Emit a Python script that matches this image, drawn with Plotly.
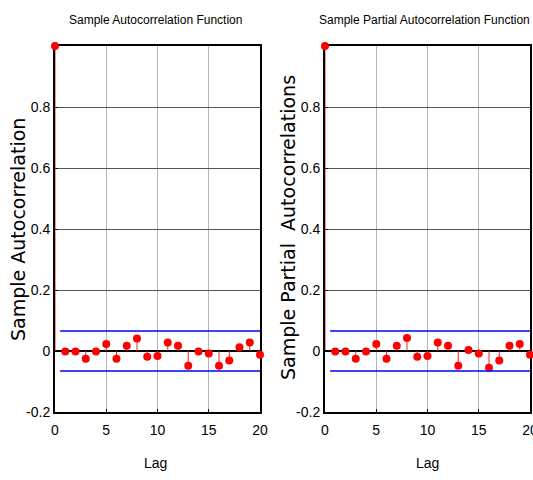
import plotly.graph_objects as go

# Sample ACF / PACF values for lags 0..20
lags = list(range(0, 21))
acf_vals = [1.0, -0.002, -0.002, -0.025, -0.002, 0.023, -0.025, 0.017, 0.041, -0.019, -0.016,
            0.028, 0.017, -0.048, -0.002, -0.008, -0.048, -0.031, 0.012, 0.028, -0.012]
pacf_vals = [1.0, -0.002, -0.002, -0.025, -0.002, 0.023, -0.025, 0.017, 0.043, -0.019, -0.016,
             0.028, 0.017, -0.048, 0.003, -0.008, -0.055, -0.031, 0.017, 0.023, -0.012]
conf_bound = 0.0656
bound_lags = [0.5, 20]

y_ticks = [-0.2, 0, 0.2, 0.4, 0.6, 0.8]
y_ticktext = ["-0.2", "0", "0.2", "0.4", "0.6", "0.8"]
x_ticks = [0, 5, 10, 15, 20]

titles = ["Sample Autocorrelation Function", "Sample Partial Autocorrelation Function"]
ylabels = ["Sample Autocorrelation", "Sample Partial  Autocorrelations"]

NARROW = "Liberation Sans Narrow, Arial Narrow, Liberation Sans, Arial, sans-serif"
WIDE = "DejaVu Sans, Verdana, sans-serif"

fig = go.Figure()

for i, vals in enumerate([acf_vals, pacf_vals]):
    ax = "" if i == 0 else "2"
    xs, ys = [], []
    for lag, v in zip(lags, vals):
        xs += [lag, lag, None]
        ys += [0, v, None]
    # stems
    fig.add_trace(go.Scatter(x=xs, y=ys, mode="lines", line=dict(color="#ff2020", width=1),
                             xaxis="x" + ax, yaxis="y" + ax, hoverinfo="skip",
                             cliponaxis=False, showlegend=False))
    # stem heads
    fig.add_trace(go.Scatter(x=lags, y=vals, mode="markers",
                             marker=dict(color="#ff0000", size=8, line=dict(width=0)),
                             xaxis="x" + ax, yaxis="y" + ax, cliponaxis=False, showlegend=False))
    # confidence bounds
    for b in (conf_bound, -conf_bound):
        fig.add_trace(go.Scatter(x=bound_lags, y=[b, b], mode="lines",
                                 line=dict(color="#0000ff", width=1.5),
                                 xaxis="x" + ax, yaxis="y" + ax, showlegend=False))

x_domains = [[55 / 533, 260 / 533], [325 / 533, 530 / 533]]
y_domain = [1 - 412 / 480, 1 - 46 / 480]

axis_common = dict(showline=True, linecolor="black", linewidth=2, mirror=True,
                   ticks="inside", ticklen=3, tickcolor="black",
                   tickfont=dict(family=NARROW, size=14, color="black"),
                   layer="below traces", automargin=False, ticklabeloverflow="allow")

layout = dict(width=533, height=480, margin=dict(l=0, r=0, t=0, b=0),
              plot_bgcolor="white", paper_bgcolor="white", showlegend=False)

for i in range(2):
    ax = "" if i == 0 else "2"
    layout["xaxis" + ax] = dict(axis_common, domain=x_domains[i], range=[0, 20],
                                tickvals=x_ticks, showgrid=True, gridcolor="#b4b4b4",
                                gridwidth=1, zeroline=False, ticklabelstandoff=4,
                                anchor="y" + ax)
    layout["yaxis" + ax] = dict(axis_common, domain=y_domain, range=[-0.2, 1],
                                tickvals=y_ticks, ticktext=y_ticktext, showgrid=True,
                                gridcolor="#555555", gridwidth=1, zeroline=True,
                                zerolinecolor="black", zerolinewidth=2,
                                anchor="x" + ax)

fig.update_layout(**layout)

title_x = [155 / 533, 424 / 533]
lag_x = [155 / 533, 427 / 533]
ylabel_x = [18 / 533, 288 / 533]
ylabel_y = [1 - 230 / 480, 1 - 228 / 480]
for i in range(2):
    fig.add_annotation(text=titles[i], x=title_x[i], y=1 - 20 / 480, xref="paper", yref="paper",
                       xanchor="center", yanchor="middle", showarrow=False,
                       font=dict(family=NARROW, size=12, color="black"))
    fig.add_annotation(text="Lag", x=lag_x[i], y=1 - 463 / 480, xref="paper", yref="paper",
                       xanchor="center", yanchor="middle", showarrow=False,
                       font=dict(family=NARROW, size=14, color="black"))
    fig.add_annotation(text=ylabels[i], x=ylabel_x[i], y=ylabel_y[i], xref="paper", yref="paper",
                       xanchor="center", yanchor="middle", showarrow=False, textangle=-90,
                       font=dict(family=WIDE, size=19, color="black"))

fig.write_html("out.html")
